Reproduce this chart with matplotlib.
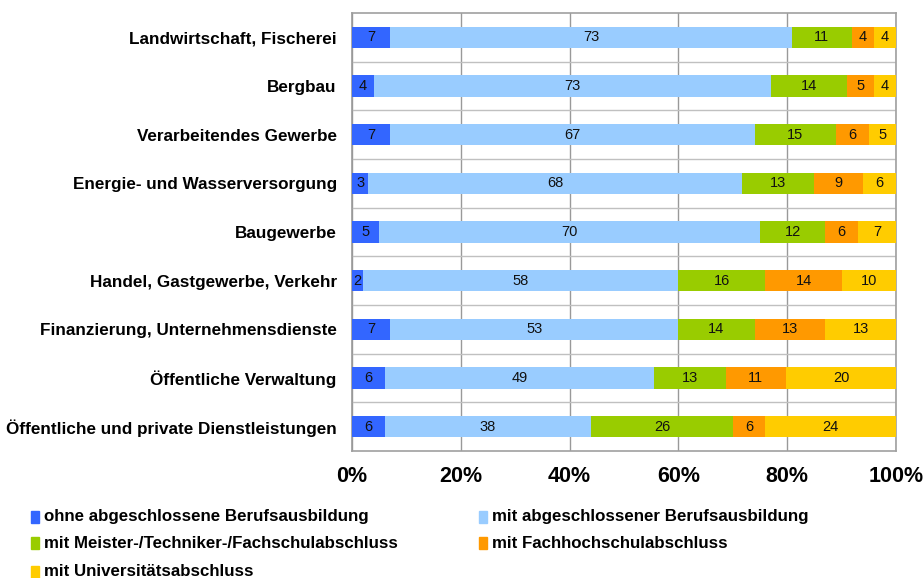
import matplotlib
matplotlib.use("Agg")
import matplotlib.pyplot as plt
import numpy as np
from matplotlib.patches import Rectangle

categories = [
    "Landwirtschaft, Fischerei",
    "Bergbau",
    "Verarbeitendes Gewerbe",
    "Energie- und Wasserversorgung",
    "Baugewerbe",
    "Handel, Gastgewerbe, Verkehr",
    "Finanzierung, Unternehmensdienste",
    "Öffentliche Verwaltung",
    "Öffentliche und private Dienstleistungen",
]
series_names = [
    "ohne abgeschlossene Berufsausbildung",
    "mit abgeschlossener Berufsausbildung",
    "mit Meister-/Techniker-/Fachschulabschluss",
    "mit Fachhochschulabschluss",
    "mit Universitätsabschluss",
]
ohne = [7, 4, 7, 3, 5, 2, 7, 6, 6]
berufsausbildung = [73, 73, 67, 68, 70, 58, 53, 49, 38]
meister = [11, 14, 15, 13, 12, 16, 14, 13, 26]
fachhochschule = [4, 5, 6, 9, 6, 14, 13, 11, 6]
universitaet = [4, 4, 5, 6, 7, 10, 13, 20, 24]
tick_labels = ["0%", "20%", "40%", "60%", "80%", "100%"]

colors = ["#3366FF", "#99CCFF", "#99CC00", "#FF9900", "#FFCC00"]

plt.rcParams['font.family'] = ['Liberation Sans', 'DejaVu Sans']

fig = plt.figure(figsize=(9.23, 5.78), dpi=100)
ax = fig.add_axes([352/923, 1-451/578, 544/923, (451-13)/578])

data = np.array([ohne, berufsausbildung, meister, fachhochschule, universitaet], dtype=float)
totals = data.sum(axis=0)
pct = data / totals * 100
y = np.arange(len(categories))
left = np.zeros(len(categories))
for i in range(len(series_names)):
    bars = ax.barh(y, pct[i], left=left, height=0.44, color=colors[i], zorder=3)
    for j, b in enumerate(bars):
        ax.text(left[j] + pct[i][j] / 2, y[j], f"{int(data[i][j])}",
                ha="center", va="center", fontsize=10.5, color="#111111", zorder=4)
    left += pct[i]

ax.set_xlim(0, 100)
ax.set_ylim(len(categories) - 0.5, -0.5)
ax.set_yticks(y)
ax.set_yticklabels(categories, fontsize=12.3, fontweight="bold")
ax.set_xticks(np.linspace(0, 100, len(tick_labels)))
ax.set_xticklabels(tick_labels, fontsize=15.5, fontweight="bold")
ax.set_yticks(np.arange(len(categories) - 1) + 0.5, minor=True)
ax.tick_params(axis="y", which="both", length=0, pad=11)
ax.tick_params(axis="x", length=0, pad=11)
ax.grid(axis="x", color="#999999", linewidth=1, zorder=0)
ax.grid(axis="y", which="minor", color="#C0C0C0", linewidth=1, zorder=0)
for s in ax.spines.values():
    s.set_color("#A0A0A0")
    s.set_linewidth(1.2)
ax.spines["left"].set_color("#999999")

# legend
leg_pos = [(31, 517), (479, 517), (31, 543), (479, 543), (31, 572)]
for (px, py), name, c in zip(leg_pos, series_names, colors):
    fig.patches.append(Rectangle((px/923, 1-(py+6)/578), 8/923, 12/578,
                                 transform=fig.transFigure, color=c))
    fig.text((px+13)/923, 1-py/578, name, fontsize=12.2, fontweight="bold",
             va="center", ha="left")

fig.savefig("out.png", dpi=100)
